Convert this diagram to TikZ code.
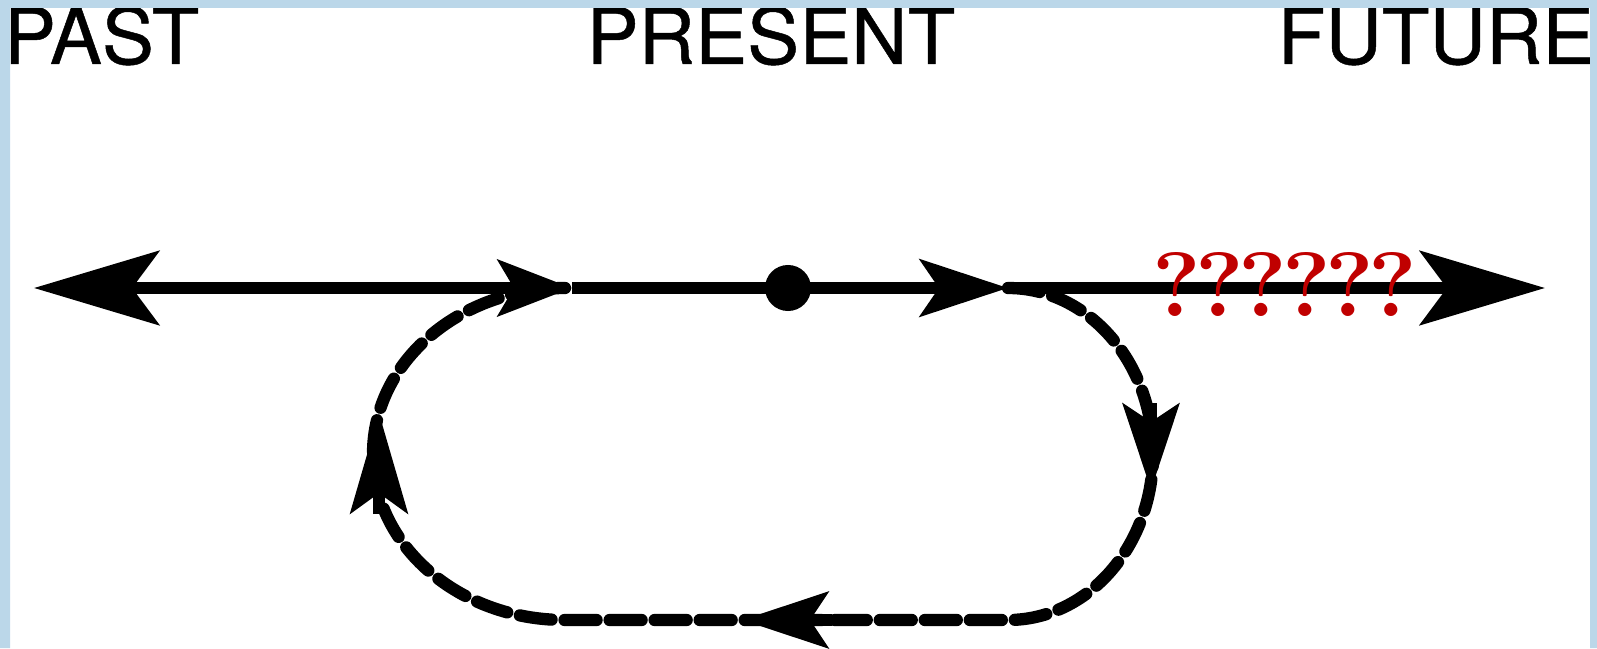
\documentclass[tikz,border=0pt]{standalone}
\usepackage{fontspec}
\newfontfamily\heros[FakeBold=0.6]{TeX Gyre Heros}
\newfontfamily\qfont[LetterSpace=-6]{Latin Modern Roman}
\usetikzlibrary{arrows.meta}
\definecolor{framecol}{RGB}{187,215,233}
\definecolor{qred}{RGB}{192,0,0}

\begin{document}
\begin{tikzpicture}[x=0.01cm, y=0.01cm,
  timeline/.style={line width=3.4pt},
  period/.style={font=\heros\fontsize{22.2}{24}\selectfont, inner sep=0},
  looppath/.style={line width=3.5pt, line cap=round, dash pattern=on 0.32cm off 0.13cm},
  endtip/.tip={Stealth[length=1.25cm, width=0.74cm, inset=0.27cm]},
  midtip/.tip={Stealth[length=0.74cm, width=0.56cm, inset=0.16cm]},
  longtip/.tip={Stealth[length=0.88cm, width=0.57cm, inset=0.19cm]},
  looptip/.tip={Stealth[length=0.86cm, width=0.56cm, inset=0.18cm]}]
\useasboundingbox (0,0) rectangle (1597,648);
\fill[white] (0,0) rectangle (1597,648);
% labels on top
\node[period, anchor=base east] (past) at (200,584) {PAST};
\node[period, anchor=base] (present) at (771,584) {PRESENT};
\node[period, anchor=base west] (future) at (1277,584) {FUTURE};
% the time line
\coordinate (tl) at (34,360);
\coordinate (a1) at (572,360);
\coordinate (a2) at (1008,360);
\coordinate (tr) at (1545,360);
\node[circle, fill, inner sep=0, minimum size=0.46cm] (now) at (788,360) {};
\draw[timeline, endtip-midtip] (tl) -- (a1);
\draw[timeline, -longtip] (a1) -- (a2);
\draw[timeline, -endtip] (a2) -- (tr);
% the loop back
\draw[looppath]
  (a2) arc[start angle=90, end angle=-90, x radius=145, y radius=166]
  -- (565,28) arc[start angle=270, end angle=90, x radius=192, y radius=166];
\coordinate (r1) at (1151,245);
\coordinate (r2) at (1151,158);
\coordinate (b1) at (832,28);
\coordinate (b2) at (742,28);
\coordinate (l1) at (379,134);
\coordinate (l2) at (379,235);
\draw[timeline, -looptip] (r1) -- (r2);
\draw[timeline, -looptip] (b1) -- (b2);
\draw[timeline, -{Stealth[length=1.0cm, width=0.57cm, inset=0.2cm]}] (l1) -- (l2);
\node[anchor=base west, inner sep=0, text=qred, font=\qfont\bfseries\fontsize{26}{28}\selectfont] (unknown) at (1152,331) {??????};
% frame
\fill[framecol] (0,0) rectangle (10,648) (0,640) rectangle (1597,648) (1590,0) rectangle (1597,648);
\end{tikzpicture}
\end{document}
